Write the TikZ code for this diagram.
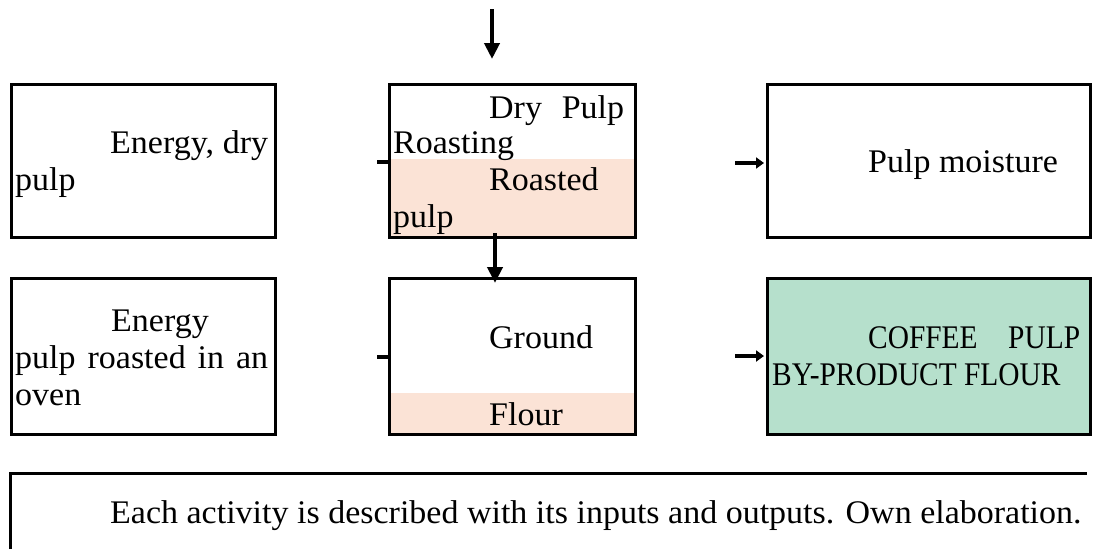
\documentclass[tikz,border=0pt]{standalone}
\usepackage{fontspec}
\usepackage{graphicx}
\setmainfont{Liberation Serif}[FakeStretch=1.03]
\usetikzlibrary{arrows.meta}
\begin{document}
\begin{tikzpicture}[x=1pt,y=-1pt,
  box/.style={draw=black, line width=3pt, anchor=north west, inner sep=0pt},
  tl/.style={anchor=base west, inner sep=0pt, font=\fontsize{33}{36}\selectfont},
  bigarr/.style={line width=4pt, -{Triangle[length=16pt,width=15pt]}},
  smallarr/.style={line width=4.5pt, -{Triangle[length=8pt,width=11pt]}},
  stub/.style={line width=4.5pt}
]
\useasboundingbox (0,0) rectangle (1110,549);
\definecolor{peach}{RGB}{251,227,214}
\definecolor{mint}{RGB}{182,224,204}

% row 1
\node[box, minimum width=264pt, minimum height=153pt] (A) at (10,83) {};
\fill[peach] (388,159) rectangle (634,236);
\node[box, minimum width=246pt, minimum height=153pt] (B) at (388,83) {};
\node[box, minimum width=323pt, minimum height=153pt] (C) at (766,83) {};
% row 2
\node[box, minimum width=264pt, minimum height=156pt] (D) at (10,277) {};
\fill[peach] (388,393) rectangle (634,433);
\node[box, minimum width=246pt, minimum height=156pt] (E) at (388,277) {};
\node[box, fill=mint, minimum width=323pt, minimum height=156pt] (F) at (766,277) {};
% bottom open frame
\coordinate (botL) at (10,549);
\coordinate (botTL) at (10,473);
\coordinate (botTR) at (1087,473);
\draw[line width=3pt] (botL) -- (botTL) -- (botTR);

% texts
\node[tl] (a1) at (110,153) {\hbox to 158pt{Energy,\hfill dry}};
\node[tl] (a2) at (15,190) {pulp};
\node[tl] (b1) at (489,118) {\hbox to 135pt{Dry\hfill Pulp}};
\node[tl] (b2) at (393,153) {Roasting};
\node[tl] (b3) at (489,190) {Roasted};
\node[tl] (b4) at (393,227) {pulp};
\node[tl] (c1) at (868,172) {Pulp moisture};
\node[tl] (d1) at (111,331) {Energy};
\node[tl] (d2) at (15,368) {\hbox to 253pt{pulp\hfill roasted\hfill in\hfill an}};
\node[tl] (d3) at (15,405) {oven};
\node[tl] (e1) at (489,348) {Ground};
\node[tl] (e2) at (489,425) {Flour};
\node[tl] (f1) at (868,348) {\scalebox{0.865}[1]{\hbox to 245pt{COFFEE\hfill PULP}}};
\node[tl] (f2) at (772,385) {\scalebox{0.865}[1]{BY-PRODUCT FLOUR}};
\node[tl] (g1) at (110,523) {Each activity is described with its inputs and outputs. Own elaboration.};

% connectors
\coordinate (topS) at (492,9);
\coordinate (topT) at (492,59);
\draw[bigarr] (topS) -- (topT);
\coordinate (midS) at (495,233);
\coordinate (midT) at (495,283);
\draw[bigarr] (midS) -- (midT);
\coordinate (s1) at (377,162);
\draw[stub] (s1) -- (s1 -| B.west);
\coordinate (s2) at (377,357);
\draw[stub] (s2) -- (s2 -| E.west);
\coordinate (r1) at (735,163);
\draw[smallarr] (r1) -- ([xshift=-2pt]r1 -| C.west);
\coordinate (r2) at (735,356);
\draw[smallarr] (r2) -- ([xshift=-2pt]r2 -| F.west);
\end{tikzpicture}
\end{document}
